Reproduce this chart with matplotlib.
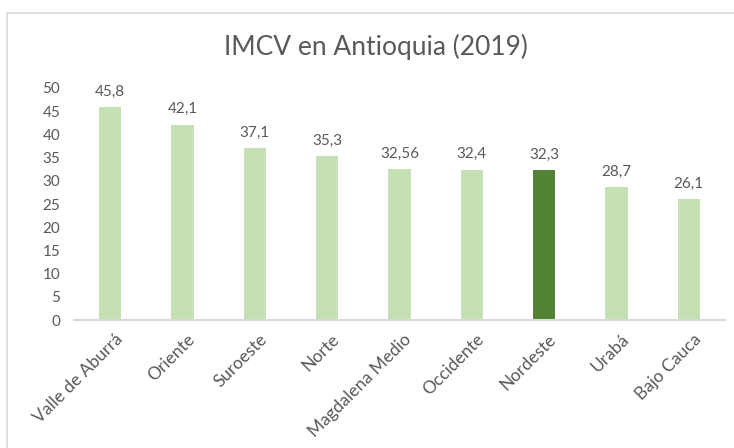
import matplotlib.pyplot as plt
from matplotlib.patches import Rectangle
from matplotlib.transforms import ScaledTranslation

regiones = ["Valle de Aburrá", "Oriente", "Suroeste", "Norte", "Magdalena Medio",
            "Occidente", "Nordeste", "Urabá", "Bajo Cauca"]
imcv = [45.8, 42.1, 37.1, 35.3, 32.56, 32.4, 32.3, 28.7, 26.1]
etiquetas = ["45,8", "42,1", "37,1", "35,3", "32,56", "32,4", "32,3", "28,7", "26,1"]
destacado = "Nordeste"

color_claro = "#c5e0b4"
color_oscuro = "#548235"
color_texto = "#595959"

plt.rcParams.update({"font.family": ["Lato", "DejaVu Sans"]})

fig = plt.figure(figsize=(7.34, 4.48), dpi=100)
ax = fig.add_axes([74 / 734, 1 - 320 / 448, 651 / 734, 232 / 448])

colores = [color_oscuro if r == destacado else color_claro for r in regiones]
x = range(len(regiones))
barras = ax.bar(x, imcv, width=0.31, color=colores)

for b, t in zip(barras, etiquetas):
    ax.annotate(t, (b.get_x() + b.get_width() / 2, b.get_height()), xytext=(0, 6),
                textcoords="offset points", ha="center", va="bottom",
                fontsize=11, color=color_texto)

ax.set_xlim(-0.5, len(regiones) - 0.5)
ax.set_ylim(0, 50)
ax.set_yticks(range(0, 51, 5))
ax.set_xticks(list(x))
ax.set_xticklabels(regiones, rotation=45, ha="right", va="top", rotation_mode="anchor")
ax.tick_params(axis="both", length=0, labelsize=11, labelcolor=color_texto)
ax.tick_params(axis="x", pad=8, labelsize=12.5)
ax.tick_params(axis="y", pad=10)

desplaza = ScaledTranslation(4 / 100, 0, fig.dpi_scale_trans)
for lbl in ax.get_xticklabels():
    lbl.set_transform(lbl.get_transform() + desplaza)

for s in ["top", "right", "left"]:
    ax.spines[s].set_visible(False)
ax.spines["bottom"].set_color("#d9d9d9")
ax.spines["bottom"].set_linewidth(1.5)

fig.text(0.512, 1 - 47 / 448, "IMCV en Antioquia (2019)", ha="center", va="center",
         fontsize=19, color=color_texto)

fig.patches.append(Rectangle((7 / 734, -0.05), 1.0, 1 - 13 / 448 + 0.05,
                             transform=fig.transFigure, fill=False,
                             edgecolor="#d9d9d9", lw=1.2))

fig.savefig("out.png", dpi=100)
